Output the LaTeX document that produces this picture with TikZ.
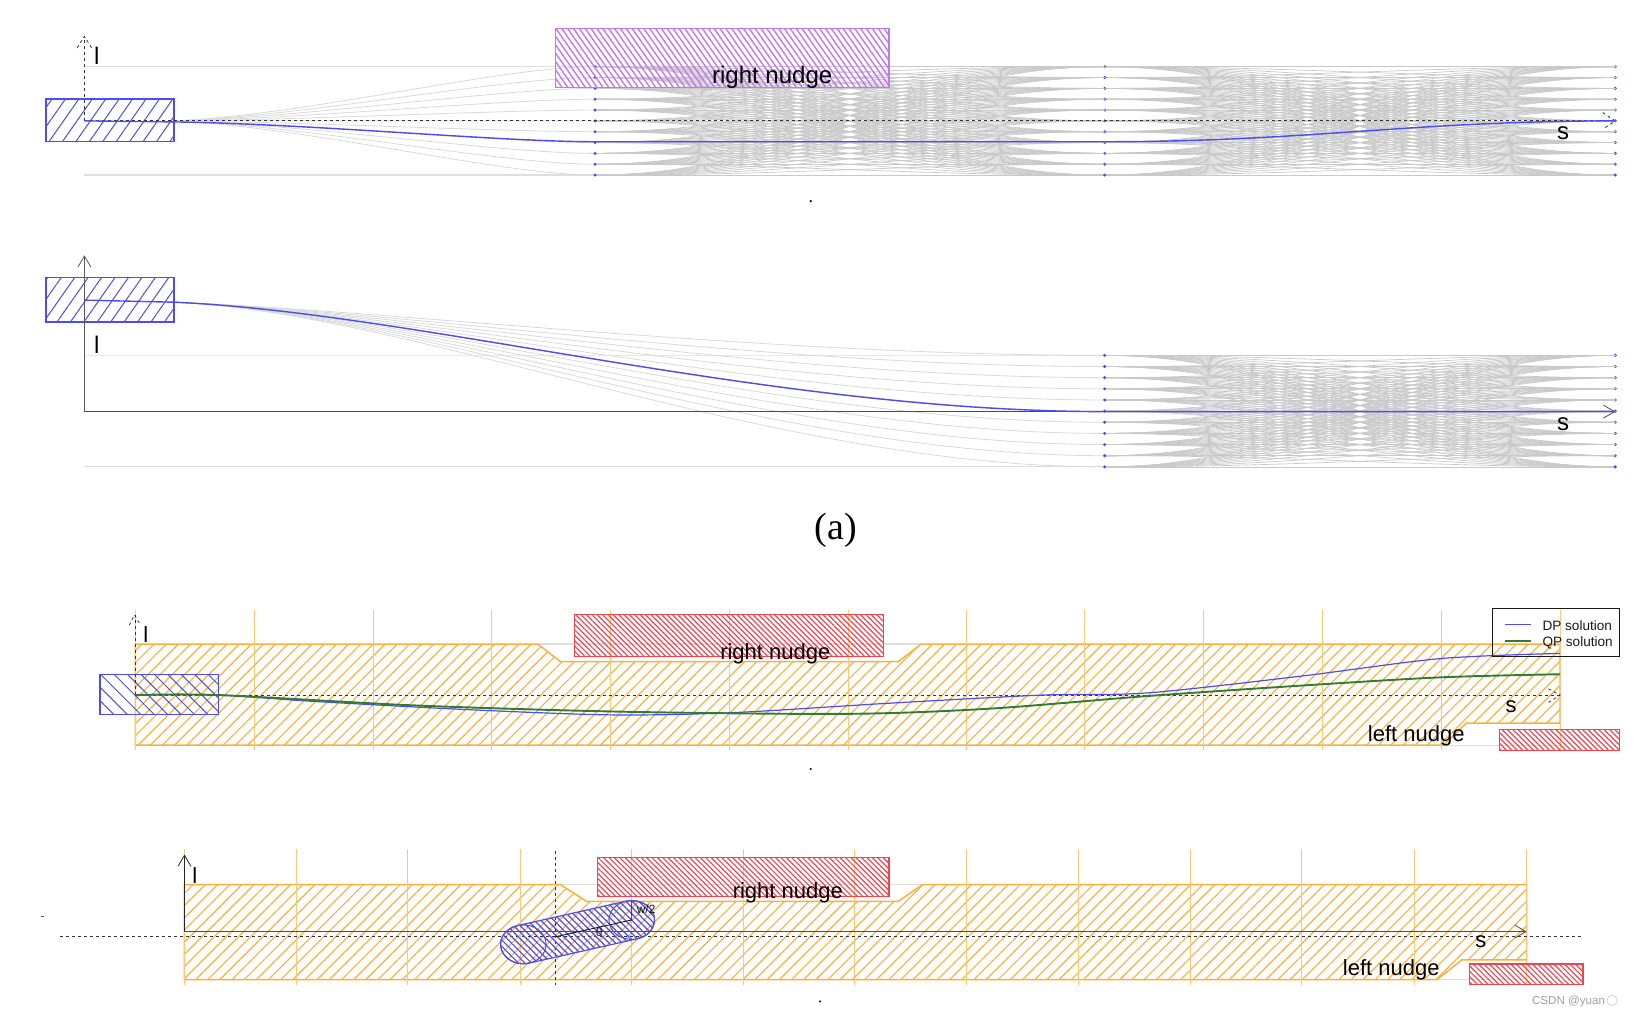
\documentclass[tikz,border=0pt]{standalone}
\usepackage{fontspec}
\setmainfont{Liberation Sans}
\newfontfamily\capfont{Liberation Serif}
\usepackage{xcolor}
\usetikzlibrary{arrows.meta,patterns.meta}
\definecolor{egoblue}{HTML}{4C4CF2}
\definecolor{qpgreen}{HTML}{2E7D32}
\definecolor{boundorange}{HTML}{FBB03B}
\definecolor{nudgered}{HTML}{F2434F}
\definecolor{nudgepurple}{HTML}{C277EE}
\tikzset{
  egobox/.style={draw=egoblue,line width=1.3pt,pattern={Lines[angle=55,distance=11pt,line width=1pt]},pattern color=egoblue},
  egoboxb/.style={draw=egoblue,line width=1.2pt,pattern={Lines[angle=-45,distance=9.5pt,line width=1pt]},pattern color=egoblue},
  purplebox/.style={draw=nudgepurple,line width=1.2pt,pattern={Lines[angle=-55,distance=4.8pt,line width=1.4pt]},pattern color=nudgepurple},
  redbox/.style={draw=nudgered,line width=1.2pt,pattern={Lines[angle=-45,distance=3.8pt,line width=1.2pt]},pattern color=nudgered},
  corridor/.style={draw=boundorange,line width=1.5pt,pattern={Lines[angle=45,distance=8.6pt,line width=1.15pt]},pattern color=boundorange},
  station/.style={boundorange!70,line width=1pt},
  fanline/.style={gray!30,line width=.8pt},
  knotline/.style={gray!42,line width=.7pt},
  edgeline/.style={gray!25,line width=1.2pt},
  barb/.style={-{Straight Barb[length=11pt,width=13pt,line width=.8pt]}},
  axisd/.style={gray!40!black,dashed,line width=.8pt},
  pathb/.style={egoblue,line width=1.2pt},
  tagb/.style={font=\fontsize{24}{24}\selectfont,inner sep=0pt},
  tagc/.style={font=\fontsize{22}{22}\selectfont,inner sep=0pt},
  legtag/.style={font=\fontsize{13.6}{14}\selectfont,inner sep=0pt,anchor=west,gray!20!black},
}
\begin{document}
\begin{tikzpicture}[x=1.0421pt,y=-1.0421pt]
\useasboundingbox (0,0) rectangle (1568,976);
\def\ra{64}\def\da{10.4}\def\rb{341}\def\db{10.7}
% top lattice
\draw[edgeline] (81,64) -- (571,64);
\draw[edgeline] (81,168) -- (571,168);
\foreach \i in {0,...,10}{
  \draw[fanline] (167,116) .. controls (300,{116+.12*(\ra+\da*\i-116)}) and (480,{\ra+\da*\i}) .. (571,{\ra+\da*\i});
  \foreach \j in {0,...,10}{
    \draw[knotline] (571,{\ra+\da*\i}) .. controls (767,{\ra+\da*\i}) and (864,{\ra+\da*\j}) .. (1060,{\ra+\da*\j});
    \draw[knotline] (1060,{\ra+\da*\i}) .. controls (1256,{\ra+\da*\i}) and (1354,{\ra+\da*\j}) .. (1550,{\ra+\da*\j});
  }
  \foreach \x in {571,1060,1550} \fill[egoblue] (\x,{\ra+\da*\i}) circle (1.6);
}
\draw[purplebox] (533,27) rectangle (853,84);
\draw[egobox] (44,95) rectangle (167,136);
\draw[axisd] (81,116) -- (81,35);
\draw[axisd] (74,46) -- (81,35) -- (88,46);
\draw[axisd,line width=1.2pt] (81,116) -- (1550,116);
\draw[axisd] (1538,108) -- (1550,116) -- (1538,124);
\draw[pathb,line width=1.4pt] (81,116) -- (167,117) .. controls (300,119) and (480,136) .. (571,136) -- (1060,136) .. controls (1256,136) and (1354,116) .. (1550,116);
\node[tagb] (nudgea) at (741,74) {right nudge};
\node[tagb] (lablA) at (93,54) {l};
\node[tagb] (labsA) at (1500,128) {s};
\fill (778,193) circle (1.2);
% second lattice
\draw[edgeline,gray!18] (81,341) -- (1060,341);
\draw[edgeline] (81,448) -- (1060,448);
\foreach \i in {0,...,10}{
  \draw[fanline] (167,290) .. controls (400,300) and (740,{\rb+\db*\i}) .. (1060,{\rb+\db*\i});
  \foreach \j in {0,...,10}
    \draw[knotline] (1060,{\rb+\db*\i}) .. controls (1256,{\rb+\db*\i}) and (1354,{\rb+\db*\j}) .. (1550,{\rb+\db*\j});
  \foreach \x in {1060,1550} \fill[egoblue] (\x,{\rb+\db*\i}) circle (1.6);
}
\draw[egobox] (44,266) rectangle (167,309);
\draw[gray!70!black,line width=.9pt,barb] (81,395) -- (81,245);
\draw[gray!60!black,line width=1.5pt,barb] (81,395) -- (1550,395);
\draw[pathb,line width=1.4pt] (81,288) -- (167,290) .. controls (400,300) and (740,395) .. (1060,395) -- (1550,395);
\node[tagb] (lablB) at (93,331) {l};
\node[tagb] (labsB) at (1500,407) {s};
\node[font=\capfont\fontsize{38}{38}\selectfont,inner sep=0pt] (caption) at (802,509) {(a)};
% third panel
\draw[edgeline] (516,618) -- (884,618);
\draw[edgeline] (1385,715) -- (1497,715);
\draw[corridor] (130,618) -- (516,618) -- (538,635) -- (862,635) -- (884,618) -- (1497,618) -- (1497,694) -- (1407,694) -- (1385,715) -- (130,715) -- cycle;
\foreach \x in {130,244,358,472,586,700,814,927,1041,1155,1269,1383,1497}
  \draw[station] (\x,585) -- (\x,720);
\draw[redbox] (551,590) rectangle (848,630);
\draw[redbox] (1439,700) rectangle (1554,720);
\draw[egoboxb] (96,647) rectangle (210,686);
\draw[axisd,line width=.8pt] (130,667) -- (130,590);
\draw[axisd,line width=.8pt] (124,600) -- (129,590) -- (135,600);
\draw[axisd,line width=1pt] (130,667) -- (1497,667);
\draw[axisd,line width=.8pt] (1486,661) -- (1497,667) -- (1486,674);
\draw[pathb] plot[smooth] coordinates {(130,667) (210,667) (300,673) (450,681) (586,686) (700,684) (850,675) (1000,667) (1100,665) (1247,649) (1382,632) (1497,627)};
\draw[qpgreen,line width=1.9pt] plot[smooth] coordinates {(130,667) (210,667) (400,677) (600,683) (814,685) (950,680) (1100,668) (1247,658) (1382,650) (1497,647)};
\node[tagc] (nudgeb) at (744,627) {right nudge};
\node[tagc] (nudgec) at (1359,706) {left nudge};
\node[tagc] (lablC) at (140,609) {l};
\node[tagc] (labsC) at (1450,678) {s};
\draw[gray!20!black,line width=1.1pt] (1432,584) rectangle (1554,630);
\draw[egoblue,line width=1.2pt] (1444,599) -- (1469,599);
\draw[qpgreen,line width=1.5pt] (1444,615) -- (1469,615);
\node[legtag] (legdp) at (1480,600) {DP solution};
\node[legtag] (legqp) at (1480,616.5) {QP solution};
\fill (778,738) circle (1.1);
% fourth panel
\draw[edgeline] (538,849) -- (885,849);
\draw[edgeline] (1379,940) -- (1465,940);
\draw[corridor] (177,849) -- (538,849) -- (563,865) -- (862,865) -- (885,849) -- (1465,849) -- (1465,921) -- (1403,921) -- (1379,940) -- (177,940) -- cycle;
\foreach \x in {177,284,391,499,606,713,820,927,1035,1142,1249,1357,1465}
  \draw[station,line width=.8pt] (\x,815) -- (\x,945);
\draw[redbox] (573,823) rectangle (853,860);
\draw[redbox] (1410,925) rectangle (1519,945);
\draw[gray!30!black,line width=1pt,barb] (177,894) -- (177,820);
\draw[gray!60!black,line width=1.5pt,barb] (177,894) -- (1465,894);
\draw[axisd,line width=1pt] (58,899) -- (1520,899);
\draw[axisd,line width=1pt] (533,817) -- (533,945);
\def\rx{21.8}\def\ry{18.6}
\def\lx{502.2}\def\ly{906.2}\def\tx{606.2}\def\ty{882.8}
\draw[egoboxb,pattern={Lines[angle=-45,distance=4.6pt,line width=1.2pt]}] plot[domain=75:255,samples=30] ({\lx+\rx*cos(\x)},{\ly+\ry*sin(\x)}) -- plot[domain=255:435,samples=30] ({\tx+\rx*cos(\x)},{\ty+\ry*sin(\x)}) -- cycle;
\draw[egoblue,line width=1pt] plot[domain=0:360,samples=50] ({\lx+\rx*cos(\x)},{\ly+\ry*sin(\x)});
\draw[egoblue,line width=1pt] plot[domain=0:360,samples=50] ({\tx+\rx*cos(\x)},{\ty+\ry*sin(\x)});
\draw[gray!20!black,line width=.9pt] (533.6,898.8) -- (606.2,882.8) -- (606.2,864.6);
\node[font=\fontsize{12}{12}\selectfont,inner sep=0pt,gray!20!black] (halfw) at (620,872) {w/2};
\node[font=\fontsize{12}{12}\selectfont,inner sep=0pt,gray!20!black] (yaw) at (575,895) {θ};
\node[tagc] (nudged) at (756,857) {right nudge};
\node[tagc] (nudgee) at (1335,931) {left nudge};
\node[tagc] (lablD) at (187,840) {l};
\node[tagc] (labsD) at (1421,904) {s};
\draw[gray!70!black,line width=.8pt] (39,879) -- (42,879);
\fill (787,961) circle (1.1);
\node[font=\fontsize{11.6}{12}\selectfont,inner sep=0pt,anchor=west,gray!75] (mark) at (1470,961) {CSDN @yuan};
\draw[gray!45,line width=.6pt] (1547,960) circle (5);
\end{tikzpicture}
\end{document}
